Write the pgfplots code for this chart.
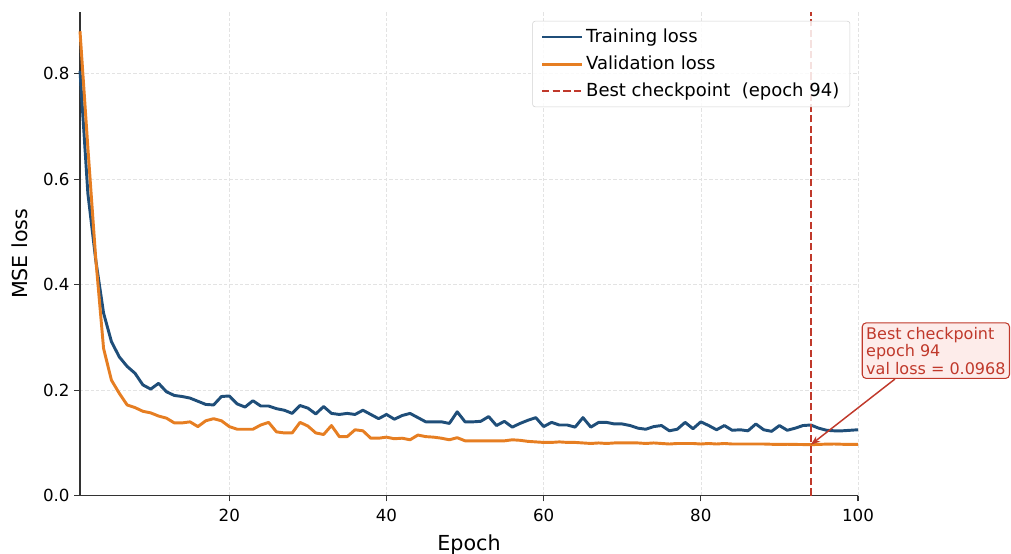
\documentclass[border=0pt]{standalone}
\usepackage{fontspec}
\setmainfont{DejaVu Sans}
\usepackage{pgfplots}
\pgfplotsset{compat=1.18}
\usetikzlibrary{arrows.meta}

\definecolor{trainblue}{HTML}{1F4E79}
\definecolor{valorange}{HTML}{E67E22}
\definecolor{bestred}{HTML}{C0392B}
\definecolor{annfill}{HTML}{FDECEA}
\definecolor{spine}{HTML}{333333}

\begin{document}
\begin{tikzpicture}
\begin{axis}[
  scale only axis,
  width=583.5pt, height=363pt,
  xmin=1, xmax=100, ymin=0, ymax=0.917,
  xtick={20,40,60,80,100},
  ytick={0,0.2,0.4,0.6,0.8},
  yticklabel style={/pgf/number format/.cd, fixed, fixed zerofill, precision=1},
  /pgf/number format/assume math mode=true,
  ticklabel style={font=\fontsize{12.5}{15}\selectfont, text=black},
  xticklabel style={yshift=-2pt},
  axis x line*=bottom, axis y line*=left,
  axis line style={spine, line width=0.8pt, -},
  tick style={spine, line width=0.8pt},
  tick align=outside, major tick length=4.3pt,
  xtick pos=bottom, ytick pos=left,
  grid=major,
  major grid style={gray!22, dash pattern=on 2.5pt off 1.5pt, line width=0.5pt},
  xlabel={Epoch}, ylabel={MSE loss},
  label style={font=\fontsize{15.5}{18}\selectfont},
  xlabel style={at={(axis description cs:0.5,0)}, anchor=center, yshift=-36.5pt},
  ylabel style={at={(axis description cs:-0.0771,0.5)}, anchor=center},
  legend style={at={(0.99,0.981)}, anchor=north east, draw=gray!35,
    rounded corners=2pt, fill=white, fill opacity=0.85, text opacity=1,
    font=\fontsize{13.5}{15}\selectfont, inner xsep=6pt, inner ysep=4pt,
    row sep=4.5pt},
  legend cell align=left,
  legend image code/.code={\draw[#1] (0pt,0pt) -- (28pt,0pt); \path (0pt,0pt) -- (30pt,0pt);},
  clip=false,
]

% training loss per epoch
\addplot[trainblue, line width=2.2pt, line join=round] coordinates {
(1,0.805) (2,0.573) (3,0.447) (4,0.346) (5,0.292) (6,0.263) (7,0.245) (8,0.232) (9,0.210) (10,0.202)
(11,0.213) (12,0.197) (13,0.190) (14,0.188) (15,0.185) (16,0.179) (17,0.173) (18,0.172) (19,0.188) (20,0.189)
(21,0.174) (22,0.168) (23,0.180) (24,0.170) (25,0.170) (26,0.165) (27,0.162) (28,0.156) (29,0.171) (30,0.166)
(31,0.155) (32,0.169) (33,0.156) (34,0.154) (35,0.156) (36,0.154) (37,0.162) (38,0.154) (39,0.146) (40,0.154)
(41,0.145) (42,0.152) (43,0.156) (44,0.148) (45,0.140) (46,0.140) (47,0.140) (48,0.137) (49,0.159) (50,0.140)
(51,0.140) (52,0.141) (53,0.150) (54,0.133) (55,0.141) (56,0.130) (57,0.137) (58,0.143) (59,0.148) (60,0.131)
(61,0.139) (62,0.134) (63,0.134) (64,0.130) (65,0.148) (66,0.130) (67,0.139) (68,0.139) (69,0.136) (70,0.136)
(71,0.133) (72,0.128) (73,0.126) (74,0.131) (75,0.133) (76,0.123) (77,0.126) (78,0.139) (79,0.127) (80,0.140)
(81,0.133) (82,0.125) (83,0.133) (84,0.124) (85,0.125) (86,0.123) (87,0.136) (88,0.125) (89,0.122) (90,0.133)
(91,0.124) (92,0.128) (93,0.133) (94,0.134) (95,0.128) (96,0.124) (97,0.123) (98,0.123) (99,0.124) (100,0.125)
};
\addlegendentry{Training loss}

% validation loss per epoch
\addplot[valorange, line width=2.2pt, line join=round] coordinates {
(1,0.880) (2,0.660) (3,0.450) (4,0.279) (5,0.219) (6,0.194) (7,0.172) (8,0.167) (9,0.160) (10,0.157)
(11,0.151) (12,0.147) (13,0.138) (14,0.138) (15,0.140) (16,0.131) (17,0.142) (18,0.146) (19,0.142) (20,0.131)
(21,0.126) (22,0.126) (23,0.126) (24,0.134) (25,0.139) (26,0.121) (27,0.119) (28,0.119) (29,0.139) (30,0.132)
(31,0.119) (32,0.116) (33,0.133) (34,0.112) (35,0.112) (36,0.125) (37,0.123) (38,0.109) (39,0.109) (40,0.111)
(41,0.108) (42,0.109) (43,0.106) (44,0.115) (45,0.112) (46,0.111) (47,0.109) (48,0.106) (49,0.110) (50,0.104)
(51,0.104) (52,0.104) (53,0.104) (54,0.104) (55,0.104) (56,0.106) (57,0.105) (58,0.103) (59,0.102) (60,0.101)
(61,0.101) (62,0.102) (63,0.101) (64,0.101) (65,0.100) (66,0.099) (67,0.100) (68,0.099) (69,0.100) (70,0.100)
(71,0.100) (72,0.100) (73,0.099) (74,0.100) (75,0.099) (76,0.098) (77,0.099) (78,0.099) (79,0.099) (80,0.098)
(81,0.099) (82,0.098) (83,0.099) (84,0.098) (85,0.098) (86,0.098) (87,0.098) (88,0.098) (89,0.0975) (90,0.0972)
(91,0.0975) (92,0.0972) (93,0.0970) (94,0.0968) (95,0.0972) (96,0.0978) (97,0.0980) (98,0.0975) (99,0.0972) (100,0.0972)
};
\addlegendentry{Validation loss}

% best checkpoint marker
\addplot[bestred, line width=1.6pt, dash pattern=on 5.5pt off 2.5pt] coordinates {(94,0) (94,0.917)};
\addlegendentry{Best checkpoint~~(epoch 94)}

\node[anchor=south west, draw=bestred, fill=annfill, text=bestred,
      rounded corners=3pt, line width=0.8pt, align=left, inner xsep=3pt, inner ysep=3pt,
      font=\fontsize{12}{13.2}\selectfont] (ann) at (axis cs:100.47,0.2212)
  {Best checkpoint\\epoch 94\\val loss = 0.0968};
\draw[-{Stealth[length=7pt,width=5pt]}, bestred, line width=1.1pt]
  ([xshift=25pt]ann.south west) -- (axis cs:94,0.0968);
\end{axis}
\pgfresetboundingbox
\path ([shift={(-60pt,-43pt)}]current axis.south west) rectangle ([shift={(114.75pt,8.8pt)}]current axis.north east);
\end{tikzpicture}
\end{document}
